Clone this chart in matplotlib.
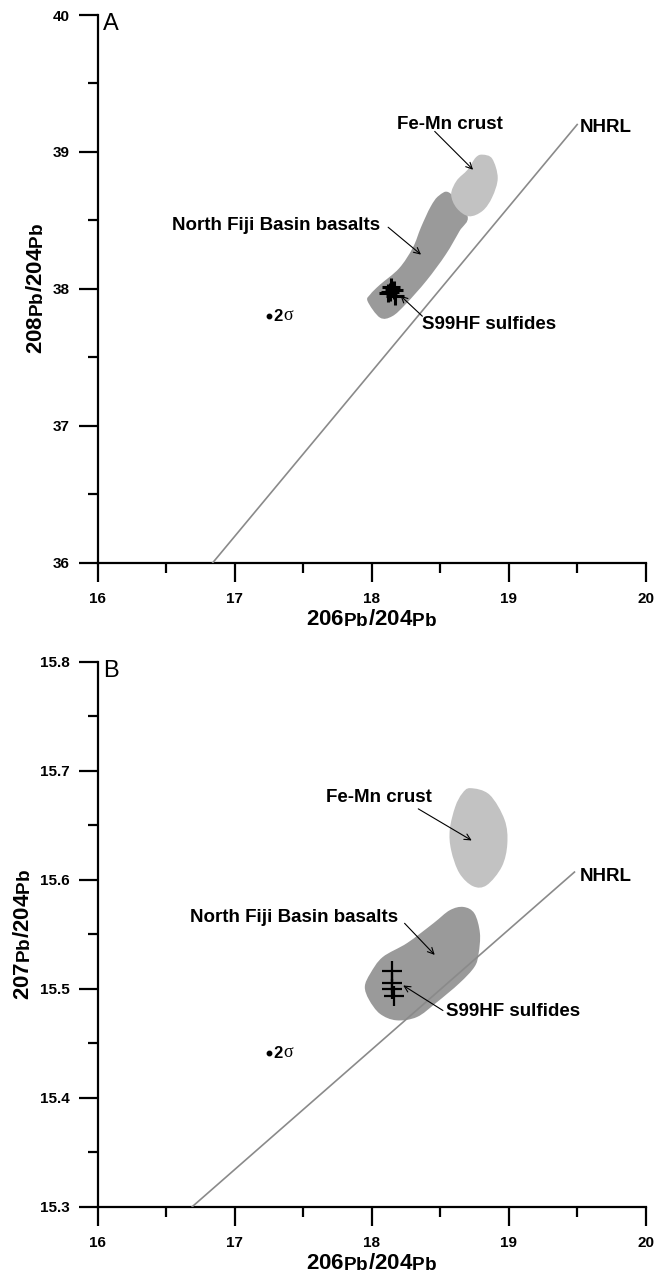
import matplotlib
matplotlib.use('Agg')
import matplotlib.pyplot as plt
from matplotlib.path import Path
from matplotlib.patches import PathPatch
from matplotlib.ticker import MultipleLocator, FormatStrFormatter

try:
    import matplotlib._mathtext as _mt
    _mt.SHRINK_FACTOR = 0.85
    _mt.FontConstantsBase.sub1 = 0.12
    _mt.FontConstantsBase.sub2 = 0.2
except Exception:
    pass

plt.rcParams['font.family'] = ['Liberation Sans', 'DejaVu Sans']
plt.rcParams['mathtext.fontset'] = 'custom'
plt.rcParams['mathtext.rm'] = 'Liberation Sans'
plt.rcParams['mathtext.bf'] = 'Liberation Sans:bold'

# ---------------- Panel A data (208Pb/204Pb vs 206Pb/204Pb) ----------------
a_basalt_x = [17.97, 18.06, 18.15, 18.25, 18.40, 18.54, 18.64, 18.70, 18.57, 18.49, 18.43, 18.36, 18.30, 18.20, 18.06, 17.99]
a_basalt_y = [37.91, 37.79, 37.80, 37.89, 38.06, 38.25, 38.42, 38.53, 38.70, 38.68, 38.60, 38.45, 38.30, 38.15, 38.03, 37.96]
a_crust_x = [18.81, 18.88, 18.92, 18.88, 18.81, 18.71, 18.62, 18.58, 18.62, 18.70, 18.76]
a_crust_y = [38.98, 38.95, 38.81, 38.67, 38.57, 38.53, 38.59, 38.69, 38.79, 38.87, 38.96]
a_sulf_x = [18.13, 18.16, 18.12, 18.17, 18.14]
a_sulf_y = [37.98, 37.99, 37.97, 37.95, 38.01]
a_nhrl_x = [16.84, 19.50]
a_nhrl_y = [36.00, 39.20]
a_sigma = (17.25, 37.80)

# ---------------- Panel B data (207Pb/204Pb vs 206Pb/204Pb) ----------------
b_basalt_x = [18.67, 18.75, 18.79, 18.78, 18.75, 18.64, 18.47, 18.33, 18.18, 18.06, 17.98, 17.95, 17.99, 18.08, 18.26, 18.45, 18.57]
b_basalt_y = [15.575, 15.569, 15.551, 15.532, 15.520, 15.505, 15.487, 15.474, 15.471, 15.477, 15.490, 15.502, 15.514, 15.529, 15.542, 15.560, 15.572]
b_crust_x = [18.72, 18.86, 18.97, 18.99, 18.95, 18.84, 18.74, 18.64, 18.58, 18.57, 18.61, 18.66]
b_crust_y = [15.684, 15.678, 15.655, 15.633, 15.612, 15.595, 15.594, 15.606, 15.627, 15.646, 15.667, 15.679]
b_sulf_x = [18.15, 18.15, 18.15, 18.16]
b_sulf_y = [15.516, 15.505, 15.500, 15.493]
b_nhrl_x = [16.69, 19.48]
b_nhrl_y = [15.300, 15.607]
b_sigma = (17.25, 15.441)

x_ticks = [16, 17, 18, 19, 20]
a_yticks = [36, 37, 38, 39, 40]
b_yticks = [15.3, 15.4, 15.5, 15.6, 15.7, 15.8]

DARK = '#9a9a9a'
LIGHT = '#c2c2c2'
LINE = '#8a8a8a'


def blob(ax, xs, ys, color, z):
    """Closed smooth outline passing through the given points (Catmull-Rom as cubic Bezier)."""
    pts = list(zip(xs, ys))
    n = len(pts)
    verts = [pts[0]]
    codes = [Path.MOVETO]
    for i in range(n):
        p0 = pts[(i - 1) % n]
        p1 = pts[i]
        p2 = pts[(i + 1) % n]
        p3 = pts[(i + 2) % n]
        c1 = (p1[0] + (p2[0] - p0[0]) / 6, p1[1] + (p2[1] - p0[1]) / 6)
        c2 = (p2[0] - (p3[0] - p1[0]) / 6, p2[1] - (p3[1] - p1[1]) / 6)
        verts += [c1, c2, p2]
        codes += [Path.CURVE4] * 3
    verts.append(pts[0])
    codes.append(Path.CLOSEPOLY)
    ax.add_patch(PathPatch(Path(verts, codes), fc=color, ec='none', zorder=z))


def label(ax, text, xy, ha='center'):
    ax.text(xy[0], xy[1], text, ha=ha, va='center', fontsize=13.5, fontweight='bold', zorder=6)


def arrow(ax, tail, tip):
    ax.annotate('', xy=tip, xytext=tail,
                arrowprops=dict(arrowstyle='->', lw=0.8, color='black', shrinkA=0, shrinkB=0,
                                mutation_scale=11), zorder=6)


def style(ax, ylim, yticks, ymin, fmt, ylab, panel):
    ax.set_xlim(16, 20)
    ax.set_ylim(*ylim)
    for s in ['top', 'right']:
        ax.spines[s].set_visible(False)
    for s in ['left', 'bottom']:
        ax.spines[s].set_linewidth(1.6)
    ax.set_xticks(x_ticks)
    ax.set_yticks(yticks)
    ax.xaxis.set_minor_locator(MultipleLocator(0.5))
    ax.yaxis.set_minor_locator(MultipleLocator(ymin))
    ax.yaxis.set_major_formatter(FormatStrFormatter(fmt))
    ax.tick_params(which='major', length=14, width=1.6, direction='out', labelsize=11)
    ax.tick_params(which='minor', length=7, width=1.6, direction='out')
    ax.tick_params(axis='y', which='major', pad=6)
    ax.tick_params(axis='x', which='major', pad=7)
    for t in ax.get_xticklabels() + ax.get_yticklabels():
        t.set_fontweight('bold')
    ax.set_xlabel(r'$\mathbf{206}_{\mathbf{Pb}}\mathbf{/204}_{\mathbf{Pb}}$', fontsize=16, labelpad=2)
    ax.set_ylabel(ylab, fontsize=16, labelpad=4)
    ax.text(0.01, 1.004, panel, transform=ax.transAxes, ha='left', va='top', fontsize=17)


fig = plt.figure(figsize=(6.66, 12.81), dpi=100)
axA = fig.add_axes([0.1467, 0.56074, 0.8228, 0.42755])
axB = fig.add_axes([0.1467, 0.05800, 0.8228, 0.42545])

# Panel A
blob(axA, a_basalt_x, a_basalt_y, DARK, 2)
blob(axA, a_crust_x, a_crust_y, LIGHT, 3)
axA.plot(a_nhrl_x, a_nhrl_y, color=LINE, lw=1.2, zorder=4)
axA.plot(a_sulf_x, a_sulf_y, ls='none', marker='+', ms=13, mew=2.2, color='black', zorder=5)
axA.plot([a_sigma[0]], [a_sigma[1]], 'o', ms=3.2, color='black')
axA.annotate('2', a_sigma, xytext=(3, 0), textcoords='offset points', ha='left', va='center',
             fontsize=12, fontweight='bold')
axA.annotate('σ', a_sigma, xytext=(10.5, 0.5), textcoords='offset points', ha='left', va='center',
             fontsize=13, family='Liberation Serif')
label(axA, 'Fe-Mn crust', (18.57, 39.20))
arrow(axA, (18.46, 39.15), (18.74, 38.87))
label(axA, 'North Fiji Basin basalts', (17.30, 38.46))
arrow(axA, (18.12, 38.45), (18.36, 38.25))
label(axA, 'S99HF sulfides', (18.37, 37.74), ha='left')
arrow(axA, (18.37, 37.80), (18.21, 37.95))
label(axA, 'NHRL', (19.52, 39.18), ha='left')
style(axA, (36, 40), a_yticks, 0.5, '%d', r'$\mathbf{208}_{\mathbf{Pb}}\mathbf{/204}_{\mathbf{Pb}}$', 'A')

# Panel B
blob(axB, b_basalt_x, b_basalt_y, DARK, 2)
blob(axB, b_crust_x, b_crust_y, LIGHT, 3)
axB.plot(b_nhrl_x, b_nhrl_y, color=LINE, lw=1.2, zorder=4)
axB.plot(b_sulf_x, b_sulf_y, ls='none', marker='+', ms=14, mew=1.6, color='black', zorder=5)
axB.plot([b_sigma[0]], [b_sigma[1]], 'o', ms=3.2, color='black')
axB.annotate('2', b_sigma, xytext=(3, 0), textcoords='offset points', ha='left', va='center',
             fontsize=12, fontweight='bold')
axB.annotate('σ', b_sigma, xytext=(10.5, 0.5), textcoords='offset points', ha='left', va='center',
             fontsize=13, family='Liberation Serif')
label(axB, 'Fe-Mn crust', (18.05, 15.675))
arrow(axB, (18.34, 15.665), (18.73, 15.636))
label(axB, 'North Fiji Basin basalts', (17.43, 15.565))
arrow(axB, (18.24, 15.560), (18.46, 15.531))
label(axB, 'S99HF sulfides', (18.54, 15.479), ha='left')
arrow(axB, (18.52, 15.480), (18.23, 15.503))
label(axB, 'NHRL', (19.52, 15.603), ha='left')
style(axB, (15.3, 15.8), b_yticks, 0.05, '%.1f', r'$\mathbf{207}_{\mathbf{Pb}}\mathbf{/204}_{\mathbf{Pb}}$', 'B')

fig.savefig('out.png', dpi=100)
